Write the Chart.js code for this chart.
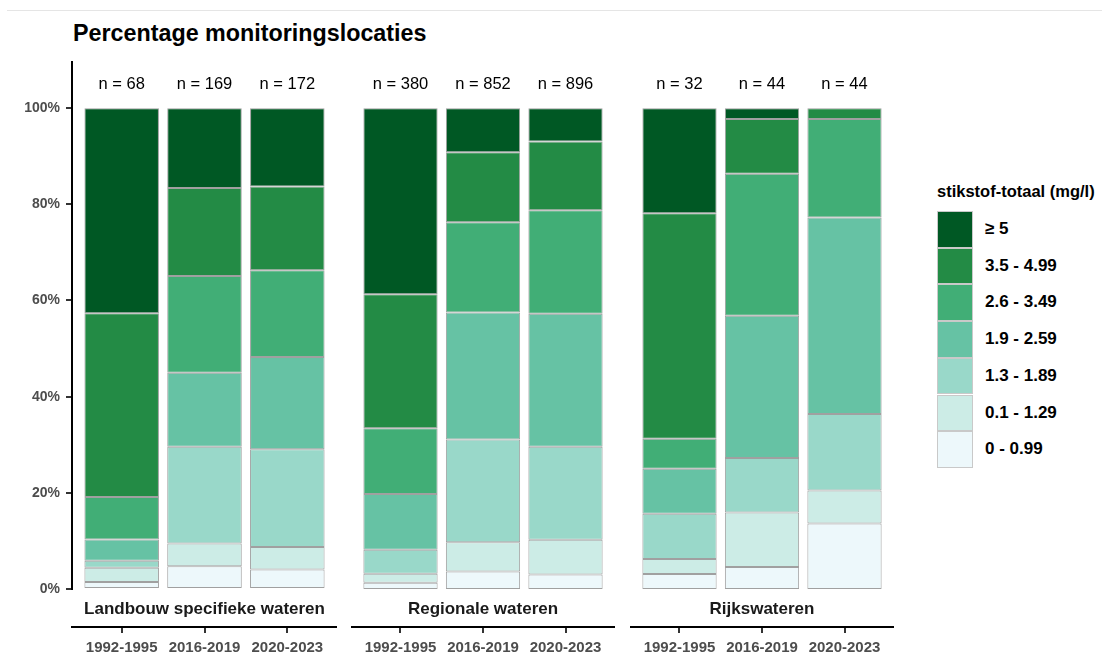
<!DOCTYPE html>
<html>
<head>
<meta charset="utf-8">
<script src="https://cdn.jsdelivr.net/npm/chart.js@4"></script>
<style>
  body { margin: 0; background: #fff; font-family: "Liberation Sans", Arial, sans-serif; }
  #wrap { position: relative; width: 1111px; height: 659px; overflow: hidden; background: #fff; }
  #topline { position: absolute; left: 7px; top: 10px; width: 1095px; height: 1px; background: #e5e5e5; }
  #title { position: absolute; left: 73px; top: 20px; font-weight: bold; font-size: 23.3px; line-height: 26px; color: #000; white-space: nowrap; }
  canvas { position: absolute; top: 0; }
  #legtitle { position: absolute; left: 937px; top: 181px; font-weight: bold; font-size: 16.5px; line-height: 20px; color: #000; white-space: nowrap; }
  .legbox { position: absolute; left: 937px; width: 36px; box-sizing: border-box; border: 1px solid #c9c9c9; }
  .leglabel { position: absolute; left: 985px; font-weight: bold; font-size: 17px; color: #000; white-space: nowrap; }
</style>
</head>
<body>
<div id="wrap">
  <div id="topline"></div>
  <div id="title">Percentage monitoringslocaties</div>
  <canvas id="c1" width="337" height="659" style="left:0px"></canvas>
  <canvas id="c2" width="264" height="659" style="left:351px"></canvas>
  <canvas id="c3" width="264" height="659" style="left:630px"></canvas>
  <div id="legtitle">stikstof-totaal (mg/l)</div>
</div>
<script>
const perioden = ['1992-1995', '2016-2019', '2020-2023'];
const panelen = ['Landbouw specifieke wateren', 'Regionale wateren', 'Rijkswateren'];
const klassen = ['≥ 5', '3.5 - 4.99', '2.6 - 3.49', '1.9 - 2.59', '1.3 - 1.89', '0.1 - 1.29', '0 - 0.99'];
const kleuren = ['#005824', '#238b45', '#41ae76', '#66c2a4', '#99d8c9', '#ccece6', '#edf8fb'];
const yTicks = [0, 20, 40, 60, 80, 100];

const nLandbouw = [68, 169, 172];
const nRegionaal = [380, 852, 896];
const nRijk = [32, 44, 44];

// percentages per klasse (zelfde volgorde als klassen), kolommen = perioden
const landbouw = [
  [42.65, 16.57, 16.28],
  [38.24, 18.34, 17.44],
  [8.82, 20.12, 18.02],
  [4.41, 15.38, 19.19],
  [1.47, 20.12, 20.35],
  [2.94, 4.73, 4.65],
  [1.47, 4.73, 4.07]
];
const regionaal = [
  [38.68, 9.15, 6.92],
  [27.89, 14.55, 14.29],
  [13.68, 18.78, 21.54],
  [11.58, 26.41, 27.68],
  [5.00, 21.36, 19.31],
  [1.84, 6.10, 7.25],
  [1.32, 3.64, 3.01]
];
const rijk = [
  [21.875, 2.27, 0],
  [46.875, 11.36, 2.27],
  [6.25, 29.55, 20.45],
  [9.375, 29.55, 40.91],
  [9.375, 11.36, 15.91],
  [3.125, 11.36, 6.82],
  [3.125, 4.55, 13.64]
];

const fontFam = '"Liberation Sans", Arial, sans-serif';
Chart.defaults.font.family = fontFam;
const nPositie = 105;

const nLabelPlugin = {
  id: 'nLabels',
  afterDatasetsDraw(chart, args, opts) {
    const ctx = chart.ctx;
    const x = chart.scales.x, y = chart.scales.y;
    ctx.save();
    ctx.font = '16.5px ' + fontFam;
    ctx.fillStyle = '#000';
    ctx.textAlign = 'center';
    ctx.textBaseline = 'middle';
    opts.waarden.forEach((n, i) => {
      ctx.fillText('n = ' + n, x.getPixelForValue(i), y.getPixelForValue(nPositie));
    });
    ctx.restore();
  }
};

const periodeTicks = s => { s.ticks = perioden.map((p, i) => ({ value: i })); };

function maakPaneel(id, naam, data, nWaarden, metYAs) {
  const datasets = [];
  // onderste klasse eerst zodat die onderaan de stapel komt
  for (let k = klassen.length - 1; k >= 0; k--) {
    datasets.push({
      label: klassen[k],
      data: perioden.map((p, i) => ({ x: i, y: data[k][i] })),
      backgroundColor: kleuren[k],
      borderColor: '#a0a0a0',
      borderWidth: 1,
      borderSkipped: false,
      barPercentage: 0.9,
      categoryPercentage: 1.0
    });
  }

  return new Chart(document.getElementById(id), {
    type: 'bar',
    data: { datasets: datasets },
    options: {
      responsive: false,
      animation: false,
      events: [],
      layout: { padding: { top: 62, left: 0, right: 0, bottom: 0 } },
      plugins: {
        legend: { display: false },
        tooltip: { enabled: false },
        nLabels: { waarden: nWaarden }
      },
      scales: {
        x: {
          type: 'linear',
          min: -0.6,
          max: 2.6,
          offset: false,
          stacked: true,
          afterBuildTicks: periodeTicks,
          grid: { display: false },
          border: { display: false },
          ticks: { display: false },
          title: {
            display: true,
            text: naam,
            font: { size: 17, weight: 'bold' },
            color: '#1a1a1a',
            padding: { top: 0, bottom: 7 }
          },
          afterFit: s => { s.height = 38; }
        },
        x2: {
          type: 'linear',
          position: 'bottom',
          min: -0.6,
          max: 2.6,
          offset: false,
          afterBuildTicks: periodeTicks,
          grid: { display: true, drawOnChartArea: false, drawTicks: true, tickLength: 6, color: '#333', lineWidth: 2, offset: false },
          border: { display: true, color: '#000', width: 2 },
          ticks: {
            callback: v => perioden[v],
            font: { size: 15, weight: 'bold' },
            color: '#4d4d4d',
            padding: 6,
            maxRotation: 0,
            autoSkip: false
          },
          afterFit: s => { s.height = 32; }
        },
        y: {
          display: metYAs,
          stacked: true,
          min: 0,
          max: 109.6,
          afterBuildTicks: s => { s.ticks = yTicks.map(v => ({ value: v })); },
          grid: { display: true, drawOnChartArea: false, drawTicks: true, tickLength: 6, color: '#333', lineWidth: 2 },
          border: { display: true, color: '#000', width: 2 },
          ticks: {
            callback: v => v + '%',
            font: { size: 14, weight: 'bold' },
            color: '#4d4d4d',
            padding: 6
          },
          afterFit: s => { s.width = metYAs ? 72 : 0; }
        }
      }
    },
    plugins: [nLabelPlugin]
  });
}

maakPaneel('c1', panelen[0], landbouw, nLandbouw, true);
maakPaneel('c2', panelen[1], regionaal, nRegionaal, false);
maakPaneel('c3', panelen[2], rijk, nRijk, false);

// legenda
const wrap = document.getElementById('wrap');
const boxH = 36.7;
klassen.forEach((k, i) => {
  const box = document.createElement('div');
  box.className = 'legbox';
  box.style.top = (211 + i * boxH) + 'px';
  box.style.height = boxH + 'px';
  box.style.background = kleuren[i];
  wrap.appendChild(box);
  const lab = document.createElement('div');
  lab.className = 'leglabel';
  lab.style.top = (211 + i * boxH) + 'px';
  lab.style.height = boxH + 'px';
  lab.style.lineHeight = boxH + 'px';
  lab.textContent = k;
  wrap.appendChild(lab);
});
</script>
</body>
</html>
